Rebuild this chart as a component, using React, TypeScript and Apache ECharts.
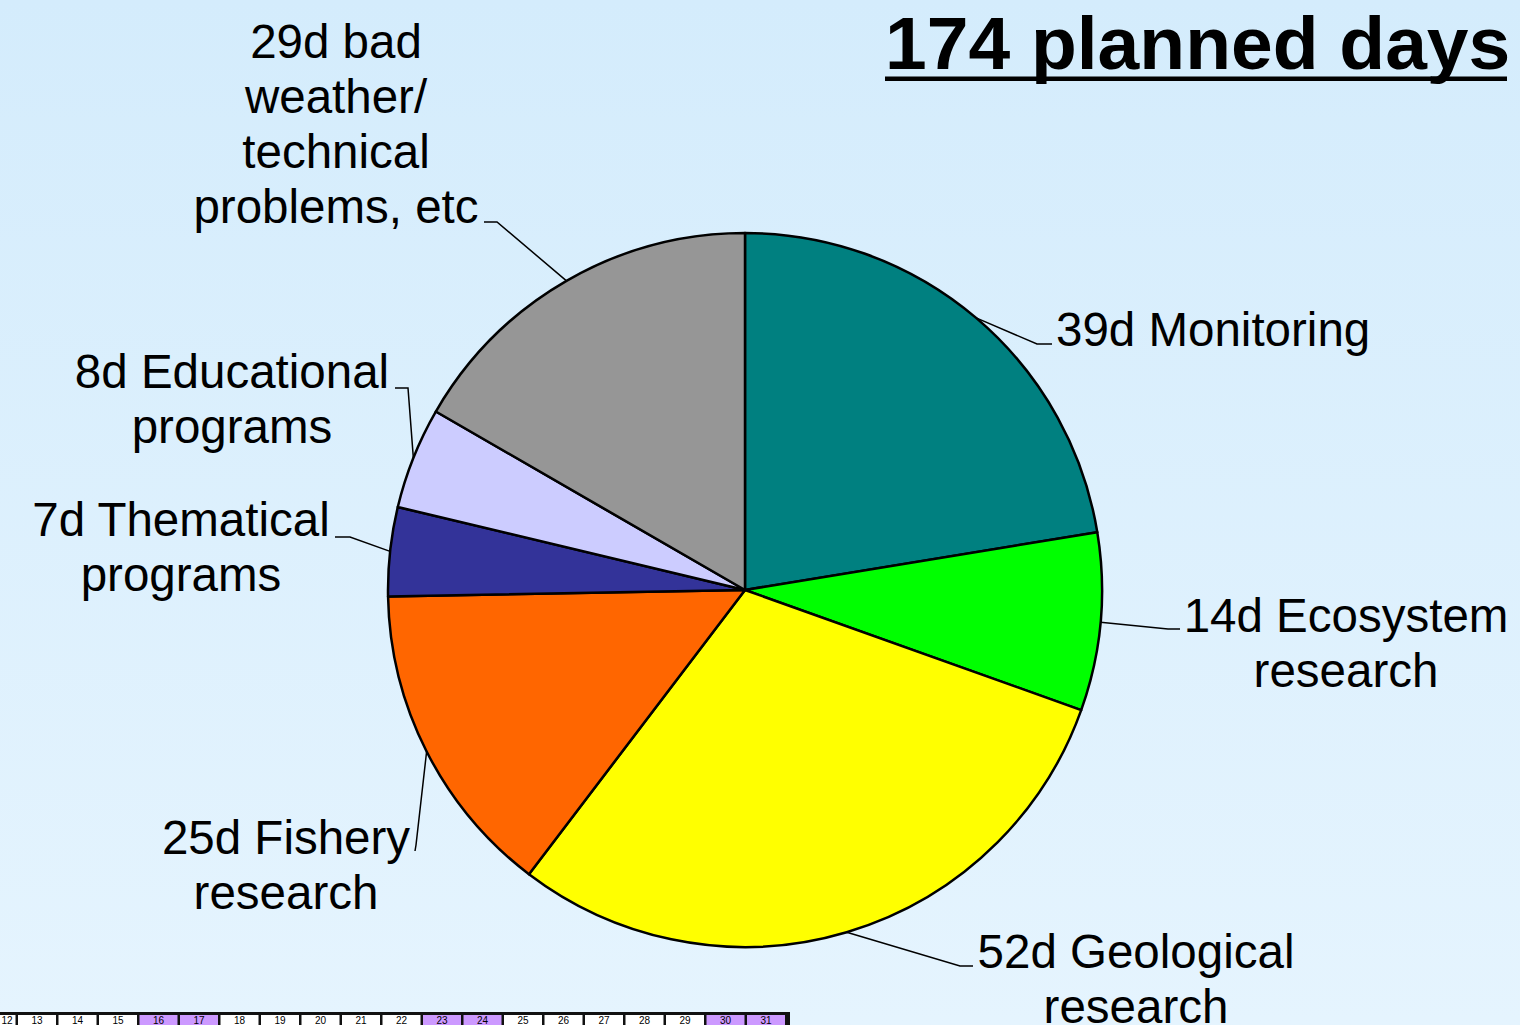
import { useEffect, useRef } from 'react';
import * as echarts from 'echarts';

// ---- data ----
const categories = [
  'Monitoring',
  'Ecosystem research',
  'Geological research',
  'Fishery research',
  'Thematical programs',
  'Educational programs',
  'bad weather/technical problems, etc',
];
const labelTexts = [
  '39d Monitoring',
  '14d Ecosystem\nresearch',
  '52d Geological\nresearch',
  '25d Fishery\nresearch',
  '7d Thematical\nprograms',
  '8d Educational\nprograms',
  '29d bad\nweather/\ntechnical\nproblems, etc',
];
const plannedDays = [39, 14, 52, 25, 7, 8, 29];
const sliceColors = ['#008080', '#00ff00', '#ffff00', '#ff6600', '#333399', '#ccccff', '#969696'];
const titleText = '174 planned days';
const calendarDays = [12, 13, 14, 15, 16, 17, 18, 19, 20, 21, 22, 23, 24, 25, 26, 27, 28, 29, 30, 31];
const weekendDays = [16, 17, 23, 24, 30, 31];

// ---- layout (label anchors / leader line elbows) ----
const CX = 745;
const CY = 590;
const R = 357;
const labelLayouts = [
  { x: 1056, y: 329, align: 'left', elbow: [1037, 344], end: [1052, 344] },
  { x: 1346, y: 643, align: 'center', elbow: [1168, 629], end: [1180, 629] },
  { x: 1136, y: 979, align: 'center', elbow: [960, 966], end: [973, 966] },
  { x: 286, y: 865, align: 'center', elbow: [416, 845], end: [415, 851] },
  { x: 181, y: 547, align: 'center', elbow: [350, 537], end: [335, 537] },
  { x: 232, y: 399, align: 'center', elbow: [408, 388], end: [395, 388] },
  { x: 336, y: 124, align: 'center', elbow: [497, 222], end: [484, 222] },
];

function sliceEdgePoint(i: number): number[] {
  const total = plannedDays.reduce((a, b) => a + b, 0);
  let before = 0;
  for (let k = 0; k < i; k++) before += plannedDays[k];
  const mid = ((before + plannedDays[i] / 2) / total) * Math.PI * 2;
  return [CX + R * Math.sin(mid), CY - R * Math.cos(mid)];
}

export default function App() {
  const ref = useRef<HTMLDivElement>(null);

  useEffect(() => {
    if (!ref.current) return;
    const chart = echarts.init(ref.current, null, { renderer: 'svg' });

    const cellW = 40.5;
    const firstSep = 17;
    const stripTop = 1012;
    const calendarElems: any[] = [
      {
        type: 'rect',
        shape: { x: -30, y: stripTop, width: 820, height: 20 },
        style: { fill: '#111111' },
      },
    ];
    calendarDays.forEach((d, i) => {
      const left = firstSep + (i - 1) * cellW + 1;
      const isWeekend = weekendDays.indexOf(d) >= 0;
      calendarElems.push({
        type: 'rect',
        shape: { x: left, y: stripTop + 3, width: cellW - 2.5, height: 20 },
        style: { fill: isWeekend ? '#cc99ff' : '#ffffff' },
      });
      calendarElems.push({
        type: 'text',
        x: Math.max(left + (cellW - 2.5) / 2, 7),
        y: stripTop + 8,
        style: {
          text: String(d),
          fill: '#000',
          font: '10px "Liberation Sans", Arial, sans-serif',
          align: 'center',
          verticalAlign: 'middle',
        },
      });
    });

    chart.setOption({
      animation: false,
      backgroundColor: {
        type: 'linear',
        x: 0,
        y: 0,
        x2: 0,
        y2: 1,
        colorStops: [
          { offset: 0, color: '#d4ecfc' },
          { offset: 1, color: '#e5f4fe' },
        ],
      },
      graphic: [
        {
          type: 'text',
          x: 885,
          y: 43,
          style: {
            text: titleText,
            fill: '#000',
            font: 'bold 75px "Liberation Sans", Arial, sans-serif',
            align: 'left',
            verticalAlign: 'middle',
          },
        },
        {
          type: 'rect',
          shape: { x: 885, y: 76.5, width: 622, height: 4.5 },
          style: { fill: '#000' },
        },
        { type: 'group', children: calendarElems },
      ],
      series: [
        {
          type: 'pie',
          center: [CX, CY],
          radius: [0, R],
          startAngle: 90,
          clockwise: true,
          avoidLabelOverlap: false,
          silent: true,
          itemStyle: { borderColor: '#000', borderWidth: 2.5 },
          label: {
            show: true,
            position: 'outer',
            alignTo: 'none',
            color: '#000',
            fontSize: 47.5,
            lineHeight: 55,
            fontFamily: '"Liberation Sans", Arial, sans-serif',
            formatter: (p: any) => labelTexts[p.dataIndex],
          },
          labelLine: {
            show: true,
            length: 10,
            length2: 10,
            lineStyle: { color: '#000', width: 1.5 },
          },
          labelLayout: (params: any) => {
            const i = params.dataIndex;
            const L = labelLayouts[i];
            const start =
              params.labelLinePoints && params.labelLinePoints[0]
                ? params.labelLinePoints[0]
                : sliceEdgePoint(i);
            return {
              x: L.x,
              y: L.y,
              align: L.align,
              verticalAlign: 'middle',
              labelLinePoints: [start, L.elbow, L.end],
            };
          },
          data: categories.map((name, i) => ({
            name,
            value: plannedDays[i],
            itemStyle: { color: sliceColors[i] },
          })),
        },
      ],
    });

    return () => chart.dispose();
  }, []);

  return (
    <div
      ref={ref}
      style={{ position: 'fixed', left: 0, top: 0, width: 1520, height: 1025 }}
    />
  );
}
